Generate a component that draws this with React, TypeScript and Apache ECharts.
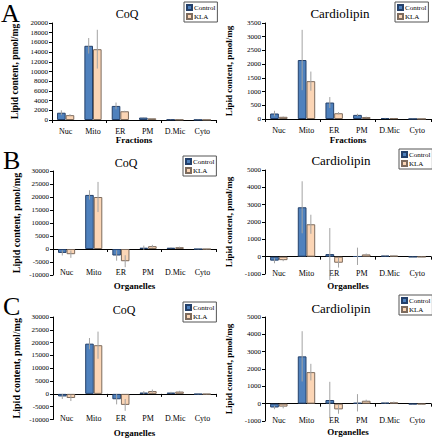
import React, { useEffect, useRef } from "react";
import * as echarts from "echarts";

const categories = ["Nuc", "Mito", "ER", "PM", "D.Mic", "Cyto"];

const aCoqControl = [1500, 15300, 2900, 500, 100, 50];
const aCoqControlErr = [500, 1600, 700, 100, 30, 20];
const aCoqKla = [1000, 14600, 1800, 350, 80, 40];
const aCoqKlaErr = [200, 4000, 100, 50, 20, 10];

const aCardControl = [200, 2150, 600, 150, 30, 5];
const aCardControlErr = [100, 1100, 200, 40, 10, 3];
const aCardKla = [80, 1380, 210, 70, 25, 3];
const aCardKlaErr = [10, 350, 40, 15, 5, 2];

const bCoqControl = [-1500, 20800, -2500, 500, 500, -100];
const bCoqControlErr = [1000, 1800, 2000, 800, 200, 50];
const bCoqKla = [-2000, 20000, -4700, 1100, 700, -100];
const bCoqKlaErr = [1400, 5800, 2300, 500, 200, 50];

const bCardControl = [-230, 2850, 150, 20, 60, -20];
const bCardControlErr = [150, 1500, 1500, 500, 30, 10];
const bCardKla = [-200, 1870, -350, 130, 60, -20];
const bCardKlaErr = [60, 550, 280, 50, 30, 10];

const cCoqControl = [-1000, 19600, -2100, 500, 500, -200];
const cCoqControlErr = [1000, 2200, 2000, 600, 300, 50];
const cCoqKla = [-1600, 19000, -4300, 1100, 900, -200];
const cCoqKlaErr = [1200, 5300, 2300, 600, 300, 50];

const cCardControl = [-220, 2730, 210, 50, 60, -40];
const cCardControlErr = [100, 1450, 1050, 500, 40, 10];
const cCardKla = [-170, 1820, -330, 170, 80, -40];
const cCardKlaErr = [100, 480, 250, 60, 40, 10];

const FONT = "Liberation Serif";
const CONTROL_COLOR = "#4F81BD";
const CONTROL_BORDER = "#24406a";
const KLA_COLOR = "#FBD5B5";
const KLA_BORDER = "#7d6b5d";
const ERR_COLOR = "#a3a3a3";
const GAP = 0.37;

type Panel = {
  title: string;
  titleX: number;
  titleY: number;
  titleSize: number;
  grid: { left: number; top: number; width: number; height: number };
  min: number;
  max: number;
  interval: number;
  yNameSize: number;
  xName: string;
  xNameGap: number;
  labelMargin: number;
  legend: { left: number; top: number };
  control: number[];
  controlErr: number[];
  kla: number[];
  klaErr: number[];
};

const panels: Panel[] = [
  {
    title: "CoQ", titleX: 127, titleY: 14, titleSize: 12,
    grid: { left: 52, top: 23, width: 164, height: 97 },
    min: 0, max: 20000, interval: 2000, yNameSize: 9.5,
    xName: "Fractions", xNameGap: 15, labelMargin: 7,
    legend: { left: 184, top: 2 },
    control: aCoqControl, controlErr: aCoqControlErr, kla: aCoqKla, klaErr: aCoqKlaErr,
  },
  {
    title: "Cardiolipin", titleX: 340, titleY: 13, titleSize: 13,
    grid: { left: 265, top: 23, width: 166, height: 96 },
    min: 0, max: 3500, interval: 500, yNameSize: 9,
    xName: "Fractions", xNameGap: 16, labelMargin: 7,
    legend: { left: 395, top: 2 },
    control: aCardControl, controlErr: aCardControlErr, kla: aCardKla, klaErr: aCardKlaErr,
  },
  {
    title: "CoQ", titleX: 126, titleY: 163, titleSize: 12,
    grid: { left: 53, top: 171, width: 163, height: 104 },
    min: -10000, max: 30000, interval: 5000, yNameSize: 10,
    xName: "Organelles", xNameGap: 6.5, labelMargin: -7,
    legend: { left: 183, top: 156 },
    control: bCoqControl, controlErr: bCoqControlErr, kla: bCoqKla, klaErr: bCoqKlaErr,
  },
  {
    title: "Cardiolipin", titleX: 341, titleY: 160, titleSize: 13,
    grid: { left: 265, top: 170, width: 166, height: 104 },
    min: -1000, max: 5000, interval: 1000, yNameSize: 9,
    xName: "Organelles", xNameGap: 7.5, labelMargin: -5,
    legend: { left: 399, top: 149 },
    control: bCardControl, controlErr: bCardControlErr, kla: bCardKla, klaErr: bCardKlaErr,
  },
  {
    title: "CoQ", titleX: 124, titleY: 310, titleSize: 12,
    grid: { left: 53, top: 317, width: 163, height: 103 },
    min: -10000, max: 30000, interval: 5000, yNameSize: 10,
    xName: "Organelles", xNameGap: 8.5, labelMargin: -5,
    legend: { left: 183, top: 302 },
    control: cCoqControl, controlErr: cCoqControlErr, kla: cCoqKla, klaErr: cCoqKlaErr,
  },
  {
    title: "Cardiolipin", titleX: 341, titleY: 308, titleSize: 13,
    grid: { left: 265, top: 317, width: 166, height: 104 },
    min: -1000, max: 5000, interval: 1000, yNameSize: 9,
    xName: "Organelles", xNameGap: 6.5, labelMargin: -5,
    legend: { left: 399, top: 295 },
    control: cCardControl, controlErr: cCardControlErr, kla: cCardKla, klaErr: cCardKlaErr,
  },
];

const panelLetters = [
  { text: "A", x: 1, y: 13 },
  { text: "B", x: 3, y: 160 },
  { text: "C", x: 3, y: 306 },
];

function errRender(sign: number) {
  return (params: any, api: any) => {
    const x = api.value(0);
    const lo = api.value(1);
    const hi = api.value(2);
    const p1 = api.coord([x, lo]);
    const p2 = api.coord([x, hi]);
    const bw = api.size([1, 0])[0];
    const off = (sign * bw * (1 - GAP)) / 4;
    return {
      type: "line",
      shape: { x1: p1[0] + off, y1: p1[1], x2: p1[0] + off, y2: p2[1] },
      style: { stroke: ERR_COLOR, lineWidth: 1 },
      z2: 10,
    };
  };
}

function buildOption() {
  const grid: any[] = [];
  const xAxis: any[] = [];
  const yAxis: any[] = [];
  const series: any[] = [];
  const legend: any[] = [];
  const graphic: any[] = [];

  panels.forEach((p, i) => {
    grid.push({ ...p.grid });
    xAxis.push({
      type: "category",
      gridIndex: i,
      data: categories,
      axisLine: { onZero: true, lineStyle: { color: "#000", width: 1 } },
      axisTick: { show: true, length: 3, lineStyle: { color: "#000" } },
      axisLabel: { show: false },
      splitLine: { show: false },
    });
    xAxis.push({
      type: "category",
      gridIndex: i,
      data: categories,
      position: "bottom",
      axisLine: { show: false, onZero: false },
      axisTick: { show: false },
      axisLabel: {
        show: true,
        interval: 0,
        margin: p.labelMargin,
        fontFamily: FONT,
        fontSize: 8,
        color: "#000",
      },
      name: p.xName,
      nameLocation: "middle",
      nameGap: p.xNameGap,
      nameTextStyle: { fontFamily: FONT, fontSize: 9, fontWeight: "bold", color: "#000" },
      splitLine: { show: false },
    });
    yAxis.push({
      type: "value",
      gridIndex: i,
      min: p.min,
      max: p.max,
      interval: p.interval,
      axisLine: { show: true, lineStyle: { color: "#000", width: 1 } },
      axisTick: { show: true, length: 3, lineStyle: { color: "#000" } },
      axisLabel: {
        fontFamily: FONT,
        fontSize: 7,
        color: "#000",
        margin: 4,
        formatter: (v: number) => String(v),
      },
      splitLine: { show: false },
      name: "Lipid content, pmol/mg",
      nameLocation: "middle",
      nameGap: 32,
      nameTextStyle: { fontFamily: FONT, fontSize: p.yNameSize, fontWeight: "bold", color: "#000" },
    });

    const xi = i * 2;
    series.push({
      type: "bar",
      name: "Control",
      xAxisIndex: xi,
      yAxisIndex: i,
      data: p.control,
      barGap: "0%",
      barCategoryGap: GAP * 100 + "%",
      itemStyle: { color: CONTROL_COLOR, borderColor: CONTROL_BORDER, borderWidth: 1 },
    });
    series.push({
      type: "bar",
      name: "KLA",
      xAxisIndex: xi,
      yAxisIndex: i,
      data: p.kla,
      barGap: "0%",
      barCategoryGap: GAP * 100 + "%",
      itemStyle: { color: KLA_COLOR, borderColor: KLA_BORDER, borderWidth: 1 },
    });
    series.push({
      type: "custom",
      name: "errControl" + i,
      xAxisIndex: xi,
      yAxisIndex: i,
      renderItem: errRender(-1),
      encode: { x: 0, y: [1, 2] },
      data: p.control.map((v, k) => [k, v - p.controlErr[k], v + p.controlErr[k]]),
      z: 5,
      clip: false,
    });
    series.push({
      type: "custom",
      name: "errKla" + i,
      xAxisIndex: xi,
      yAxisIndex: i,
      renderItem: errRender(1),
      encode: { x: 0, y: [1, 2] },
      data: p.kla.map((v, k) => [k, v - p.klaErr[k], v + p.klaErr[k]]),
      z: 5,
      clip: false,
    });

    legend.push({
      data: ["Control", "KLA"],
      orient: "vertical",
      left: p.legend.left,
      top: p.legend.top,
      itemWidth: 5,
      itemHeight: 5,
      itemGap: 2,
      padding: [2, 2, 2, 2],
      borderColor: "#555",
      borderWidth: 1,
      icon: "rect",
      selectedMode: false,
      textStyle: { fontFamily: FONT, fontSize: 7, color: "#000", padding: [0, 0, 0, -3] },
    });

    graphic.push({
      type: "text",
      x: p.titleX,
      y: p.titleY,
      style: {
        text: p.title,
        fontFamily: FONT,
        fontSize: p.titleSize,
        fill: "#000",
        align: "center",
        verticalAlign: "middle",
      },
    });
  });

  panelLetters.forEach((l) => {
    graphic.push({
      type: "text",
      x: l.x,
      y: l.y,
      style: {
        text: l.text,
        fontFamily: FONT,
        fontSize: 26,
        fill: "#000",
        align: "left",
        verticalAlign: "middle",
      },
    });
  });

  return {
    animation: false,
    backgroundColor: "#fff",
    grid,
    xAxis,
    yAxis,
    series,
    legend,
    graphic,
  };
}

export default function App() {
  const ref = useRef<HTMLDivElement>(null);
  useEffect(() => {
    document.body.style.margin = "0";
    if (!ref.current) return;
    const chart = echarts.init(ref.current, undefined, { renderer: "svg" });
    chart.setOption(buildOption() as any);
    return () => {
      chart.dispose();
    };
  }, []);
  return <div ref={ref} style={{ width: 432, height: 438 }} />;
}
